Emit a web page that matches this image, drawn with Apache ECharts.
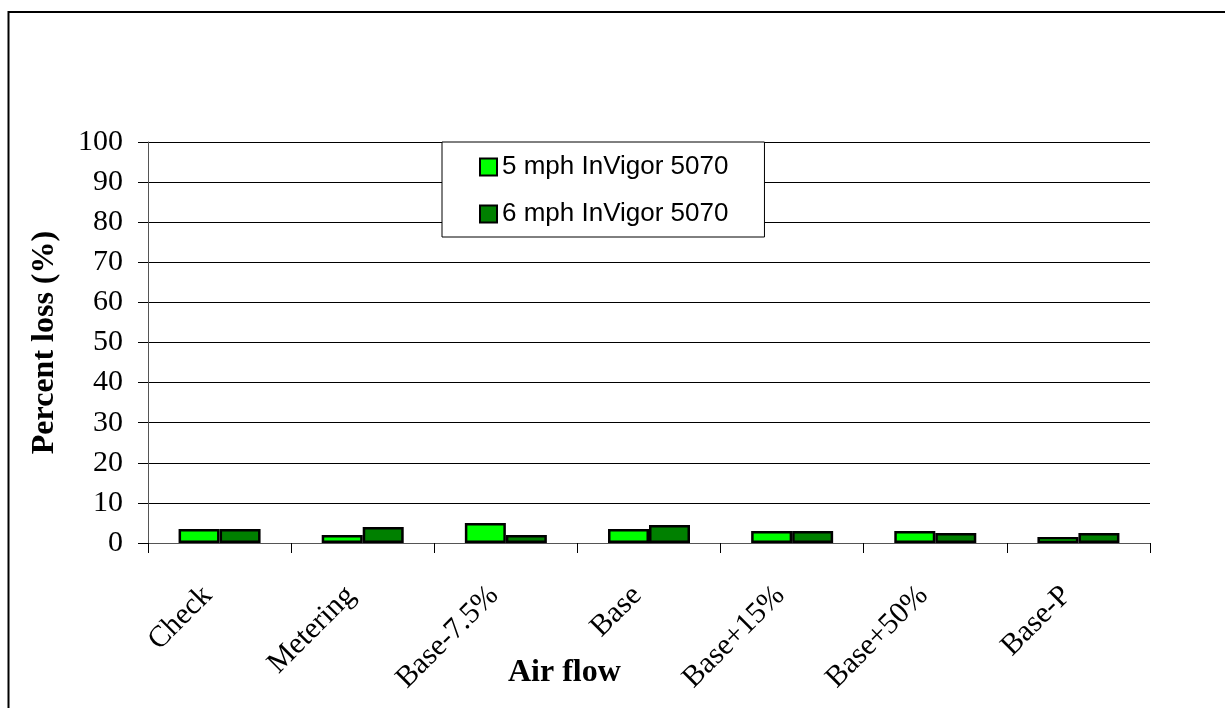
<!DOCTYPE html>
<html>
<head>
<meta charset="utf-8">
<style>
html,body{margin:0;padding:0;background:#fff;}
#chart{width:1225px;height:708px;}
</style>
<script src="https://cdn.jsdelivr.net/npm/echarts@6/dist/echarts.min.js"></script>
</head>
<body>
<div id="chart"></div>
<script>
const categories = ['Check', 'Metering', 'Base-7.5%', 'Base', 'Base+15%', 'Base+50%', 'Base-P'];
const series5mph = [3.5, 2.0, 5.0, 3.5, 3.0, 3.0, 1.5];
const series6mph = [3.5, 4.0, 2.0, 4.5, 3.0, 2.5, 2.5];
const seriesNames = ['5 mph InVigor 5070', '6 mph InVigor 5070'];
const yTicks = [0, 10, 20, 30, 40, 50, 60, 70, 80, 90, 100];

const serif = "'Liberation Serif', 'Times New Roman', serif";
const sans = "'Liberation Sans', Arial, sans-serif";

const chart = echarts.init(document.getElementById('chart'), null, {renderer: 'canvas'});
chart.setOption({
  backgroundColor: '#ffffff',
  animation: false,
  graphic: [{
    type: 'rect',
    shape: {x: 8.5, y: 12, width: 1400, height: 900},
    style: {fill: 'none', stroke: '#000', lineWidth: 2},
    silent: true
  }],
  title: {
    text: 'Air flow',
    left: 508,
    top: 657,
    padding: 0,
    textStyle: {fontFamily: serif, fontSize: 32, fontWeight: 'bold', color: '#000'}
  },
  legend: {
    orient: 'vertical',
    left: 442,
    top: 142,
    padding: [12, 36, 10, 37],
    itemGap: 21,
    itemWidth: 17,
    itemHeight: 17,
    itemTextGap: 5,
    icon: 'rect',
    borderColor: '#000',
    borderWidth: 1,
    backgroundColor: '#fff',
    data: seriesNames,
    textStyle: {fontFamily: sans, fontSize: 26, color: '#000', lineHeight: 25},
    itemStyle: {borderColor: '#000', borderWidth: 2}
  },
  grid: {left: 148, right: 75, top: 142, bottom: 165, containLabel: false},
  xAxis: {
    type: 'category',
    data: categories,
    axisLine: {show: true, lineStyle: {color: '#555', width: 1}},
    axisTick: {show: true, length: 10, alignWithLabel: false, lineStyle: {color: '#000'}},
    axisLabel: {
      rotate: 45,
      margin: 36,
      interval: 0,
      padding: [0, 17, 0, 0],
      fontFamily: serif,
      fontSize: 30,
      color: '#000'
    },
    splitLine: {show: false}
  },
  yAxis: {
    type: 'value',
    min: 0,
    max: 100,
    interval: 10,
    name: 'Percent loss (%)',
    nameLocation: 'middle',
    nameGap: 87,
    nameTextStyle: {fontFamily: serif, fontSize: 32, fontWeight: 'bold', color: '#000'},
    axisLine: {show: true, lineStyle: {color: '#555', width: 1}},
    axisTick: {show: true, length: 10, lineStyle: {color: '#000'}},
    axisLabel: {
      margin: 25,
      fontFamily: serif,
      fontSize: 30,
      color: '#000',
      formatter: function (v) { return yTicks.indexOf(v) >= 0 ? String(v) : ''; }
    },
    splitLine: {show: true, lineStyle: {color: '#000', width: 1}}
  },
  series: [
    {
      name: seriesNames[0],
      type: 'bar',
      data: series5mph,
      barWidth: 41,
      barGap: '0%',
      itemStyle: {color: '#00ff00', borderColor: '#000', borderWidth: 2.5}
    },
    {
      name: seriesNames[1],
      type: 'bar',
      data: series6mph,
      barWidth: 41,
      barGap: '0%',
      itemStyle: {color: '#008000', borderColor: '#000', borderWidth: 2.5}
    }
  ]
});
</script>
</body>
</html>
